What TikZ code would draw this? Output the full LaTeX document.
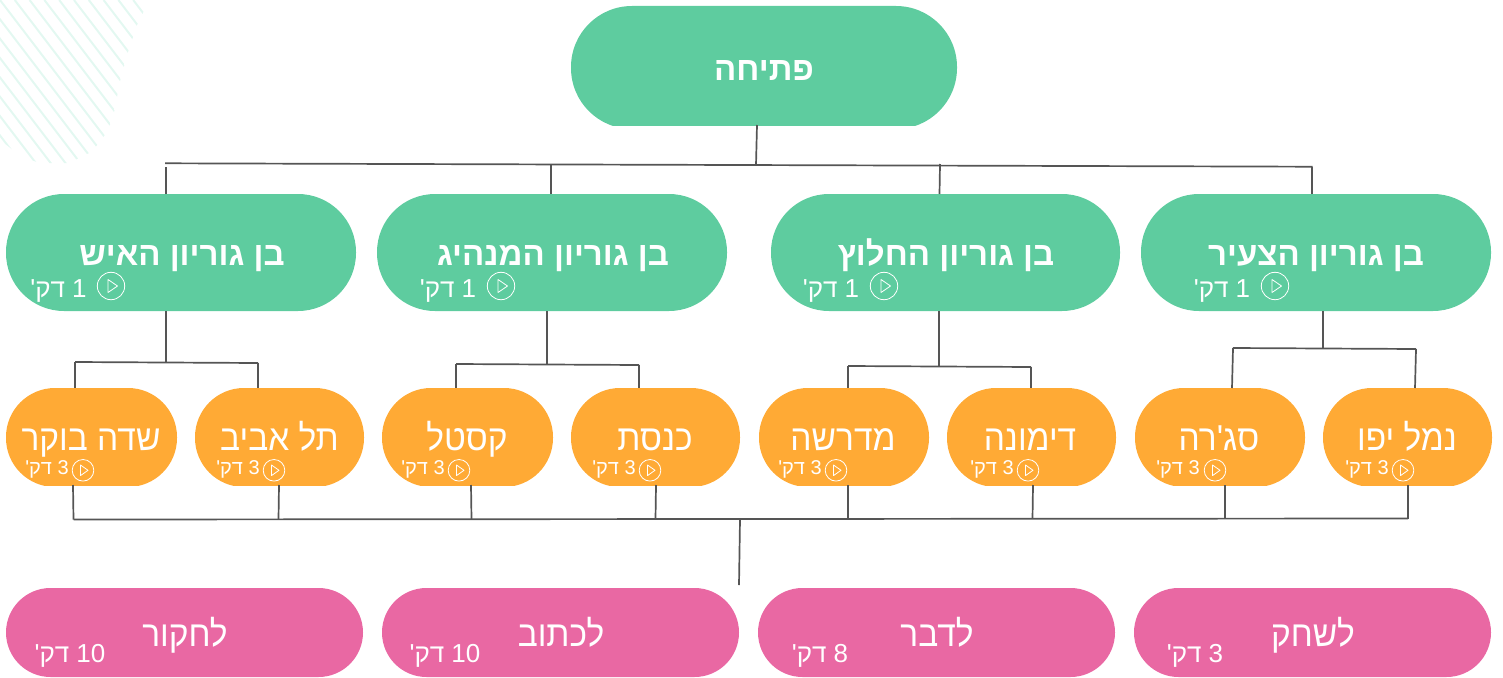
\documentclass[tikz,border=0pt]{standalone}
\usepackage{fontspec}
\setmainfont{Liberation Sans}
\newfontfamily\hebb[Script=Hebrew]{Liberation Sans}
\newfontfamily\hebl[Script=Hebrew]{Liberation Sans}
\newfontfamily\hebn[Script=Hebrew,FakeStretch=0.93]{Liberation Sans}
\TeXXeTstate=1
\definecolor{grn}{HTML}{5ECC9F}
\definecolor{org}{HTML}{FFAA35}
\definecolor{pnk}{HTML}{E968A3}
\definecolor{lin}{HTML}{555555}
\definecolor{hat}{HTML}{E3F8F1}
\tikzset{
  conn/.style={draw=lin,line width=1.7pt},
  lbl/.style={text=white,inner sep=0pt,anchor=base},
  ttl/.style={lbl,font=\hebn\fontsize{36}{42}\selectfont},
  ttb/.style={lbl,font=\hebb\bfseries\fontsize{33}{40}\selectfont},
  tim/.style={lbl,font=\hebl\fontsize{26}{30}\selectfont},
  tis/.style={lbl,font=\hebl\fontsize{20}{24}\selectfont},
  ico/.style={draw=white,line width=0.8pt,line join=round}
}
% name, x1, y1, x2, y2 (visible box), extra below, radius, colour
\newcommand\pill[8]{%
  \begin{scope}
    \clip (#2,#3) rectangle (#4,#5);
    \pgfmathsetmacro\ybot{#5+#6}
    \fill[#8,rounded corners=#7pt] (#2,#3) rectangle (#4,\ybot);
  \end{scope}
  \pgfmathsetmacro\pw{#4-#2}\pgfmathsetmacro\ph{#5-#3}
  \pgfmathsetmacro\cx{(#2+#4)/2}\pgfmathsetmacro\cy{(#3+#5)/2}
  \node[minimum width=\pw pt,minimum height=\ph pt,inner sep=0pt,outer sep=0pt] (#1) at (\cx,\cy) {};
}
\newcommand\bigplay[1]{%
  \draw[ico] (#1,286) circle (13.7);
  \draw[ico] (#1-3,279.5) -- (#1-3,292.5) -- (#1+6.5,286) -- cycle;
}
\newcommand\smallplay[1]{%
  \draw[ico] (#1,470.3) circle (10.8);
  \draw[ico] (#1-2.5,465) -- (#1-2.5,475.6) -- (#1+5,470.3) -- cycle;
}
\begin{document}
\begin{tikzpicture}[x=1pt,y=-1pt]
\useasboundingbox (0,0) rectangle (1503,677);
% hatch
\begin{scope}
  \clip (0,0) -- (146,0) -- (143,13) -- (137,25) -- (132,40) -- (127,55) -- (123,70) -- (119,85) -- (116,103) -- (113,117) -- (107,132) -- (99,143) -- (91,152) -- (69,163) -- (55,163) -- (40,163) -- (22,157) -- (0,140) -- cycle;
  \foreach \k in {-14,...,10}{
    \draw[hat,line width=2pt] (\k*14.8,0) -- ++(130,170);
  }
\end{scope}
% pills
\pill{top}{571}{6}{957}{125}{4}{61}{grn}
\pill{g1}{6}{194}{356}{311}{0}{58}{grn}
\pill{g2}{377}{194}{727}{311}{0}{58}{grn}
\pill{g3}{771}{194}{1120}{311}{0}{58}{grn}
\pill{g4}{1141}{194}{1491}{311}{0}{58}{grn}
\pill{o1}{6}{388}{177}{485}{2}{49}{org}
\pill{o2}{195}{388}{364}{485}{2}{49}{org}
\pill{o3}{382}{388}{553}{485}{2}{49}{org}
\pill{o4}{571}{388}{740}{485}{2}{49}{org}
\pill{o5}{759}{388}{929}{485}{2}{49}{org}
\pill{o6}{947}{388}{1116}{485}{2}{49}{org}
\pill{o7}{1135}{388}{1305}{485}{2}{49}{org}
\pill{o8}{1323}{388}{1492}{485}{2}{49}{org}
\pill{p1}{6}{588}{363}{677}{0}{44.5}{pnk}
\pill{p2}{382}{588}{739}{677}{0}{44.5}{pnk}
\pill{p3}{758}{588}{1115}{677}{0}{44.5}{pnk}
\pill{p4}{1134}{588}{1491}{677}{0}{44.5}{pnk}
% junction coordinates
\coordinate (hA) at (165,163.3);
\coordinate (hB) at (1312.5,166.7);
\coordinate (hT) at (756,164.8);
\coordinate (h1) at (166,167);
\coordinate (h2) at (551,165);
\coordinate (h3) at (940,164);
\coordinate (h4) at (1312,166.7);
\coordinate (a1l) at (75,362);\coordinate (a1r) at (258,363);\coordinate (a1m) at (166,362.5);
\coordinate (a2l) at (456,364);\coordinate (a2r) at (639,365);\coordinate (a2m) at (547,364.5);
\coordinate (a3l) at (848,366);\coordinate (a3r) at (1031,367);\coordinate (a3m) at (939,366.5);
\coordinate (a4l) at (1233,348);\coordinate (a4r) at (1416,349);\coordinate (a4m) at (1323,348.5);
\coordinate (bL) at (73.5,519.5);\coordinate (bR) at (1408,518.5);
\coordinate (bM) at (740,519);\coordinate (bE) at (739,585);
\coordinate (b2) at (278.5,519.2);\coordinate (b3) at (471.5,519.1);\coordinate (b4) at (655.5,519);
\coordinate (b5) at (848,519);\coordinate (b6) at (1032.5,518.9);\coordinate (b7) at (1225,518.8);
% connectors
\draw[conn] ([xshift=-7pt]top.south) -- (hT);
\draw[conn] (hA) -- (hB);
\draw[conn] ([xshift=-15pt]g1.north) -- (h1);
\draw[conn] ([xshift=-1pt]g2.north) -- (h2);
\draw[conn] ([xshift=-6pt]g3.north) -- (h3);
\draw[conn] ([xshift=-4pt]g4.north) -- (h4);
\draw[conn] ([xshift=-15pt]g1.south) -- (a1m);
\draw[conn] (a1l) -- (a1r);
\draw[conn] (a1l) -- ([xshift=-16.5pt]o1.north);
\draw[conn] (a1r) -- ([xshift=-21.5pt]o2.north);
\draw[conn] ([xshift=-5pt]g2.south) -- (a2m);
\draw[conn] (a2l) -- (a2r);
\draw[conn] (a2l) -- ([xshift=-11.5pt]o3.north);
\draw[conn] (a2r) -- ([xshift=-16.5pt]o4.north);
\draw[conn] ([xshift=-6.5pt]g3.south) -- (a3m);
\draw[conn] (a3l) -- (a3r);
\draw[conn] (a3l) -- ([xshift=4pt]o5.north);
\draw[conn] (a3r) -- ([xshift=-0.5pt]o6.north);
\draw[conn] ([xshift=7pt]g4.south) -- (a4m);
\draw[conn] (a4l) -- (a4r);
\draw[conn] (a4l) -- ([xshift=12pt]o7.north);
\draw[conn] (a4r) -- ([xshift=7.5pt]o8.north);
\draw[conn] (bL) -- (bR);
\draw[conn] ([xshift=-18.5pt]o1.south) -- (bL);
\draw[conn] ([xshift=-0.5pt]o2.south) -- (b2);
\draw[conn] ([xshift=3.5pt]o3.south) -- (b3);
\draw[conn] ([xshift=0.5pt]o4.south) -- (b4);
\draw[conn] ([xshift=4pt]o5.south) -- (b5);
\draw[conn] ([xshift=1.5pt]o6.south) -- (b6);
\draw[conn] ([xshift=5pt]o7.south) -- (b7);
\draw[conn] ([xshift=0.5pt]o8.south) -- (bR);
\draw[conn] (bM) -- (bE);
% titles
\node[ttb] (ttop) at (764,80) {\beginR פתיחה\endR};
\node[ttb] (tg1) at (182,265) {\beginR בן גוריון האיש\endR};
\node[ttb] (tg2) at (553,265) {\beginR בן גוריון המנהיג\endR};
\node[ttb] (tg3) at (946,265) {\beginR בן גוריון החלוץ\endR};
\node[ttb] (tg4) at (1316,265) {\beginR בן גוריון הצעיר\endR};
\node[tim] (ug1) at (58.5,297) {\beginR 1 דק'\endR};
\node[tim] (ug2) at (448,297) {\beginR 1 דק'\endR};
\node[tim] (ug3) at (831,297) {\beginR 1 דק'\endR};
\node[tim] (ug4) at (1222,297) {\beginR 1 דק'\endR};
\bigplay{111}\bigplay{501}\bigplay{884}\bigplay{1275}
\node[ttl] (to1) at (91,450) {\beginR שדה בוקר\endR};
\node[ttl] (to2) at (279.5,450) {\beginR תל אביב\endR};
\node[ttl] (to3) at (467,450) {\beginR קסטל\endR};
\node[ttl] (to4) at (655,450) {\beginR כנסת\endR};
\node[ttl] (to5) at (843,450) {\beginR מדרשה\endR};
\node[ttl] (to6) at (1030,450) {\beginR דימונה\endR};
\node[ttl] (to7) at (1219,450) {\beginR סג'רה\endR};
\node[ttl] (to8) at (1407,450) {\beginR נמל יפו\endR};
\node[tis] (uo1) at (47,474.5) {\beginR 3 דק'\endR};
\node[tis] (uo2) at (238,474.5) {\beginR 3 דק'\endR};
\node[tis] (uo3) at (423,474.5) {\beginR 3 דק'\endR};
\node[tis] (uo4) at (614,474.5) {\beginR 3 דק'\endR};
\node[tis] (uo5) at (800,474.5) {\beginR 3 דק'\endR};
\node[tis] (uo6) at (992,474.5) {\beginR 3 דק'\endR};
\node[tis] (uo7) at (1178,474.5) {\beginR 3 דק'\endR};
\node[tis] (uo8) at (1367,474.5) {\beginR 3 דק'\endR};
\smallplay{83}\smallplay{274}\smallplay{459}\smallplay{650}\smallplay{836}\smallplay{1028}\smallplay{1215}\smallplay{1403}
\node[ttl] (tp1) at (185,646) {\beginR לחקור\endR};
\node[ttl] (tp2) at (561,646) {\beginR לכתוב\endR};
\node[ttl] (tp3) at (937,646) {\beginR לדבר\endR};
\node[ttl] (tp4) at (1313,646) {\beginR לשחק\endR};
\node[tim] (up1) at (70,662) {\beginR\beginL 10\endL{} דק'\endR};
\node[tim] (up2) at (445,662) {\beginR\beginL 10\endL{} דק'\endR};
\node[tim] (up3) at (820,662) {\beginR 8 דק'\endR};
\node[tim] (up4) at (1195,662) {\beginR 3 דק'\endR};
\end{tikzpicture}
\end{document}
